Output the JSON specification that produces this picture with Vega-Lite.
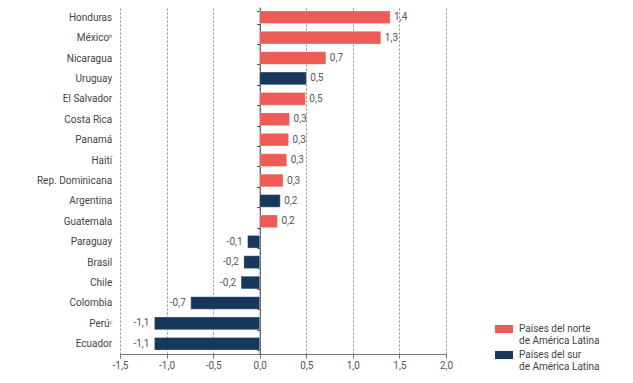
{
  "$schema": "https://vega.github.io/schema/vega-lite/v6.json",
  "autosize": {"type": "none"},
  "padding": {"left": 120, "top": 7, "right": 187, "bottom": 29},
  "width": 326,
  "height": 347,
  "background": "white",
  "config": {
    "locale": {"number": {"decimal": ",", "thousands": ".", "grouping": [3], "currency": ["", ""], "minus": "-"}},
    "view": {"stroke": null},
    "font": "Roboto",
    "text": {"font": "Roboto"}
  },
  "data": {
    "values": [
      {"pais": "Honduras", "v": 1.40, "region": "norte"},
      {"pais": "Méxicoᵇ", "v": 1.30, "region": "norte"},
      {"pais": "Nicaragua", "v": 0.71, "region": "norte"},
      {"pais": "Uruguay", "v": 0.50, "region": "sur"},
      {"pais": "El Salvador", "v": 0.49, "region": "norte"},
      {"pais": "Costa Rica", "v": 0.32, "region": "norte"},
      {"pais": "Panamá", "v": 0.31, "region": "norte"},
      {"pais": "Haití", "v": 0.29, "region": "norte"},
      {"pais": "Rep. Dominicana", "v": 0.25, "region": "norte"},
      {"pais": "Argentina", "v": 0.22, "region": "sur"},
      {"pais": "Guatemala", "v": 0.19, "region": "norte"},
      {"pais": "Paraguay", "v": -0.13, "region": "sur"},
      {"pais": "Brasil", "v": -0.17, "region": "sur"},
      {"pais": "Chile", "v": -0.20, "region": "sur"},
      {"pais": "Colombia", "v": -0.74, "region": "sur"},
      {"pais": "Perúᶜ", "v": -1.13, "region": "sur"},
      {"pais": "Ecuador", "v": -1.13, "region": "sur"}
    ]
  },
  "encoding": {
    "y": {
      "field": "pais", "type": "nominal", "sort": null,
      "scale": {"paddingInner": 0.38, "paddingOuter": 0.19},
      "axis": {
        "title": null, "orient": "left", "offset": -139.7,
        "domainColor": "#444", "domainWidth": 1,
        "tickColor": "#444", "tickSize": 3, "tickBand": "extent",
        "labelPadding": 145, "labelFontSize": 10, "labelColor": "#444",
        "labelFont": "Roboto", "labelLimit": 200
      }
    }
  },
  "layer": [
    {
      "mark": {"type": "bar", "stroke": "white", "strokeWidth": 0.5, "strokeOpacity": 0.6},
      "encoding": {
        "x": {
          "field": "v", "type": "quantitative",
          "scale": {"domain": [-1.5, 2.0], "nice": false, "zero": false},
          "axis": {
            "title": null, "values": [-1.5, -1.0, -0.5, 0, 0.5, 1.0, 1.5, 2.0],
            "format": ".1f", "grid": true, "gridDash": [2, 2], "gridColor": "#888", "gridWidth": 1,
            "domainColor": "#777", "tickColor": "#777", "tickSize": 4,
            "labelFlush": false, "labelBound": false,
            "labelFontSize": 10, "labelColor": "#555", "labelPadding": 2
          }
        },
        "color": {
          "field": "region", "type": "nominal",
          "scale": {"domain": ["norte", "sur"], "range": ["#EE5A55", "#17375C"]},
          "legend": {
            "title": null, "orient": "none", "legendX": 375, "legendY": 313,
            "symbolType": "M-1,-0.45H1V0.45H-1Z", "symbolSize": 324, "symbolStrokeWidth": 0,
            "labelExpr": "datum.label == 'norte' ? ['Países del norte', 'de América Latina'] : ['Países del sur', 'de América Latina']",
            "labelFontSize": 10, "labelColor": "#444", "labelOffset": 6, "rowPadding": 0, "labelLimit": 200
          }
        }
      }
    },
    {
      "transform": [{"filter": "datum.v >= 0"}],
      "mark": {"type": "text", "align": "left", "dx": 4, "fontSize": 10, "color": "#555"},
      "encoding": {
        "x": {"field": "v", "type": "quantitative"},
        "text": {"field": "v", "type": "quantitative", "format": ".1f"}
      }
    },
    {
      "transform": [{"filter": "datum.v < 0"}],
      "mark": {"type": "text", "align": "right", "dx": -5, "fontSize": 10, "color": "#555"},
      "encoding": {
        "x": {"field": "v", "type": "quantitative"},
        "text": {"field": "v", "type": "quantitative", "format": ".1f"}
      }
    }
  ]
}
